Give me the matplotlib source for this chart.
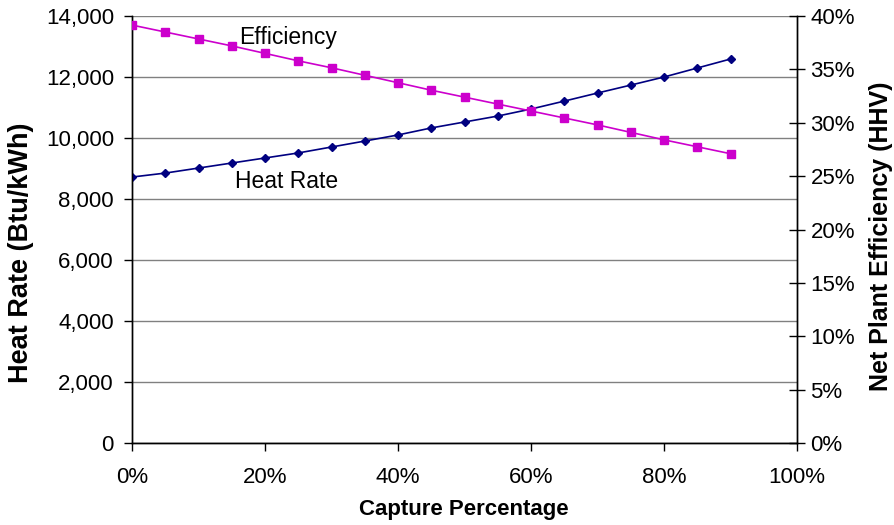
import numpy as np
import matplotlib.pyplot as plt
from matplotlib.ticker import FuncFormatter

plt.rcParams['font.family'] = ['Liberation Sans', 'DejaVu Sans']

capture = [0, 5, 10, 15, 20, 25, 30, 35, 40, 45, 50, 55, 60, 65, 70, 75, 80, 85, 90]
heat_rate = [8720, 8850, 9015, 9180, 9345, 9510, 9705, 9900, 10100, 10330,
             10525, 10720, 10950, 11210, 11475, 11735, 12000, 12295, 12590]
efficiency = [39.15, 38.5, 37.85, 37.2, 36.5, 35.8, 35.15, 34.45, 33.75, 33.05,
              32.4, 31.75, 31.1, 30.45, 29.8, 29.1, 28.4, 27.75, 27.1]

fig = plt.figure(figsize=(8.94, 5.25), dpi=100)
ax = fig.add_axes([0.1477, 0.1562, 0.7438, 0.8133])
ax2 = ax.twinx()

ax.plot(capture, heat_rate, color='#000080', marker='D', markersize=4.5, lw=1.2, zorder=3)
ax2.plot(capture, efficiency, color='#CC00CC', marker='s', markersize=5.5, lw=1.2, zorder=3)

ax.set_xlim(0, 100)
ax.set_ylim(0, 14000)
ax2.set_ylim(0, 40)
ax.set_xticks(np.arange(0, 101, 20))
ax.set_yticks(np.arange(0, 14001, 2000))
ax2.set_yticks(np.arange(0, 41, 5))
ax.xaxis.set_major_formatter(FuncFormatter(lambda v, p: f"{v:.0f}%"))
ax.yaxis.set_major_formatter(FuncFormatter(lambda v, p: f"{v:,.0f}"))
ax2.yaxis.set_major_formatter(FuncFormatter(lambda v, p: f"{v:.0f}%"))

ax.grid(axis='y', color='#808080', lw=1)
ax.set_axisbelow(True)
for a in (ax, ax2):
    a.spines['top'].set_visible(False)
    for s in ('left', 'right', 'bottom'):
        a.spines[s].set_linewidth(1)
ax.tick_params(axis='both', labelsize=16, length=6, width=1, pad=7)
ax.tick_params(axis='x', pad=11)
ax2.tick_params(axis='y', direction='inout', labelsize=16, length=11.5, width=1, pad=4)

ax.set_xlabel('Capture Percentage', fontsize=16, fontweight='bold')
ax.set_ylabel('Heat Rate (Btu/kWh)', fontsize=19.5, fontweight='bold')
ax2.set_ylabel('Net Plant Efficiency (HHV)', fontsize=18, fontweight='bold', va='center')
ax.xaxis.set_label_coords(0.499, -0.132)
ax.yaxis.set_label_coords(-0.148, 0.445)
ax2.yaxis.set_label_coords(1.126, 0.485)

ax.text(23.4, 13310, 'Efficiency', fontsize=16.5, ha='center', va='center')
ax.text(23.3, 8590, 'Heat Rate', fontsize=16.5, ha='center', va='center')

fig.savefig('out.png', dpi=100)
